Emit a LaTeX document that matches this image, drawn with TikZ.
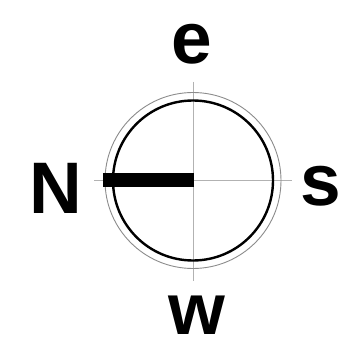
\documentclass[tikz,border=0pt]{standalone}
\usepackage{fontspec}
\setmainfont{Liberation Sans}
\begin{document}
\begin{tikzpicture}[x=1pt,y=-1pt,
  lbl/.style={inner sep=0pt,anchor=base,font=\fontsize{73}{73}\selectfont\bfseries},
  hair/.style={draw=black!30,line width=0.9pt},
  ring/.style={draw=black!45,line width=0.9pt},
  mainring/.style={draw=black,line width=2.4pt}]
\useasboundingbox (0,0) rectangle (338,337);
\fill[white] (0,0) rectangle (338,337);
\coordinate (c) at (193,180.5);
\coordinate (t) at (193,82);
\coordinate (b) at (193,281);
\coordinate (l) at (94,180.5);
\coordinate (r) at (292,180.5);
\draw[hair] (t) -- (b);
\draw[hair] (l) -- (r);
\draw[ring] (c) circle[radius=88];
\draw[mainring] (c) circle[radius=80];
\coordinate (bl) at (103,180.5);
\coordinate (br) at (194,180.5);
\draw[line width=14pt,black] (bl) -- (br);
\node[lbl] (e) at (192,64) {e};
\node[lbl] (n) at (56,214) {N};
\node[lbl] (s) at (321,206) {s};
\node[lbl] (w) at (197,334) {w};
\end{tikzpicture}
\end{document}
